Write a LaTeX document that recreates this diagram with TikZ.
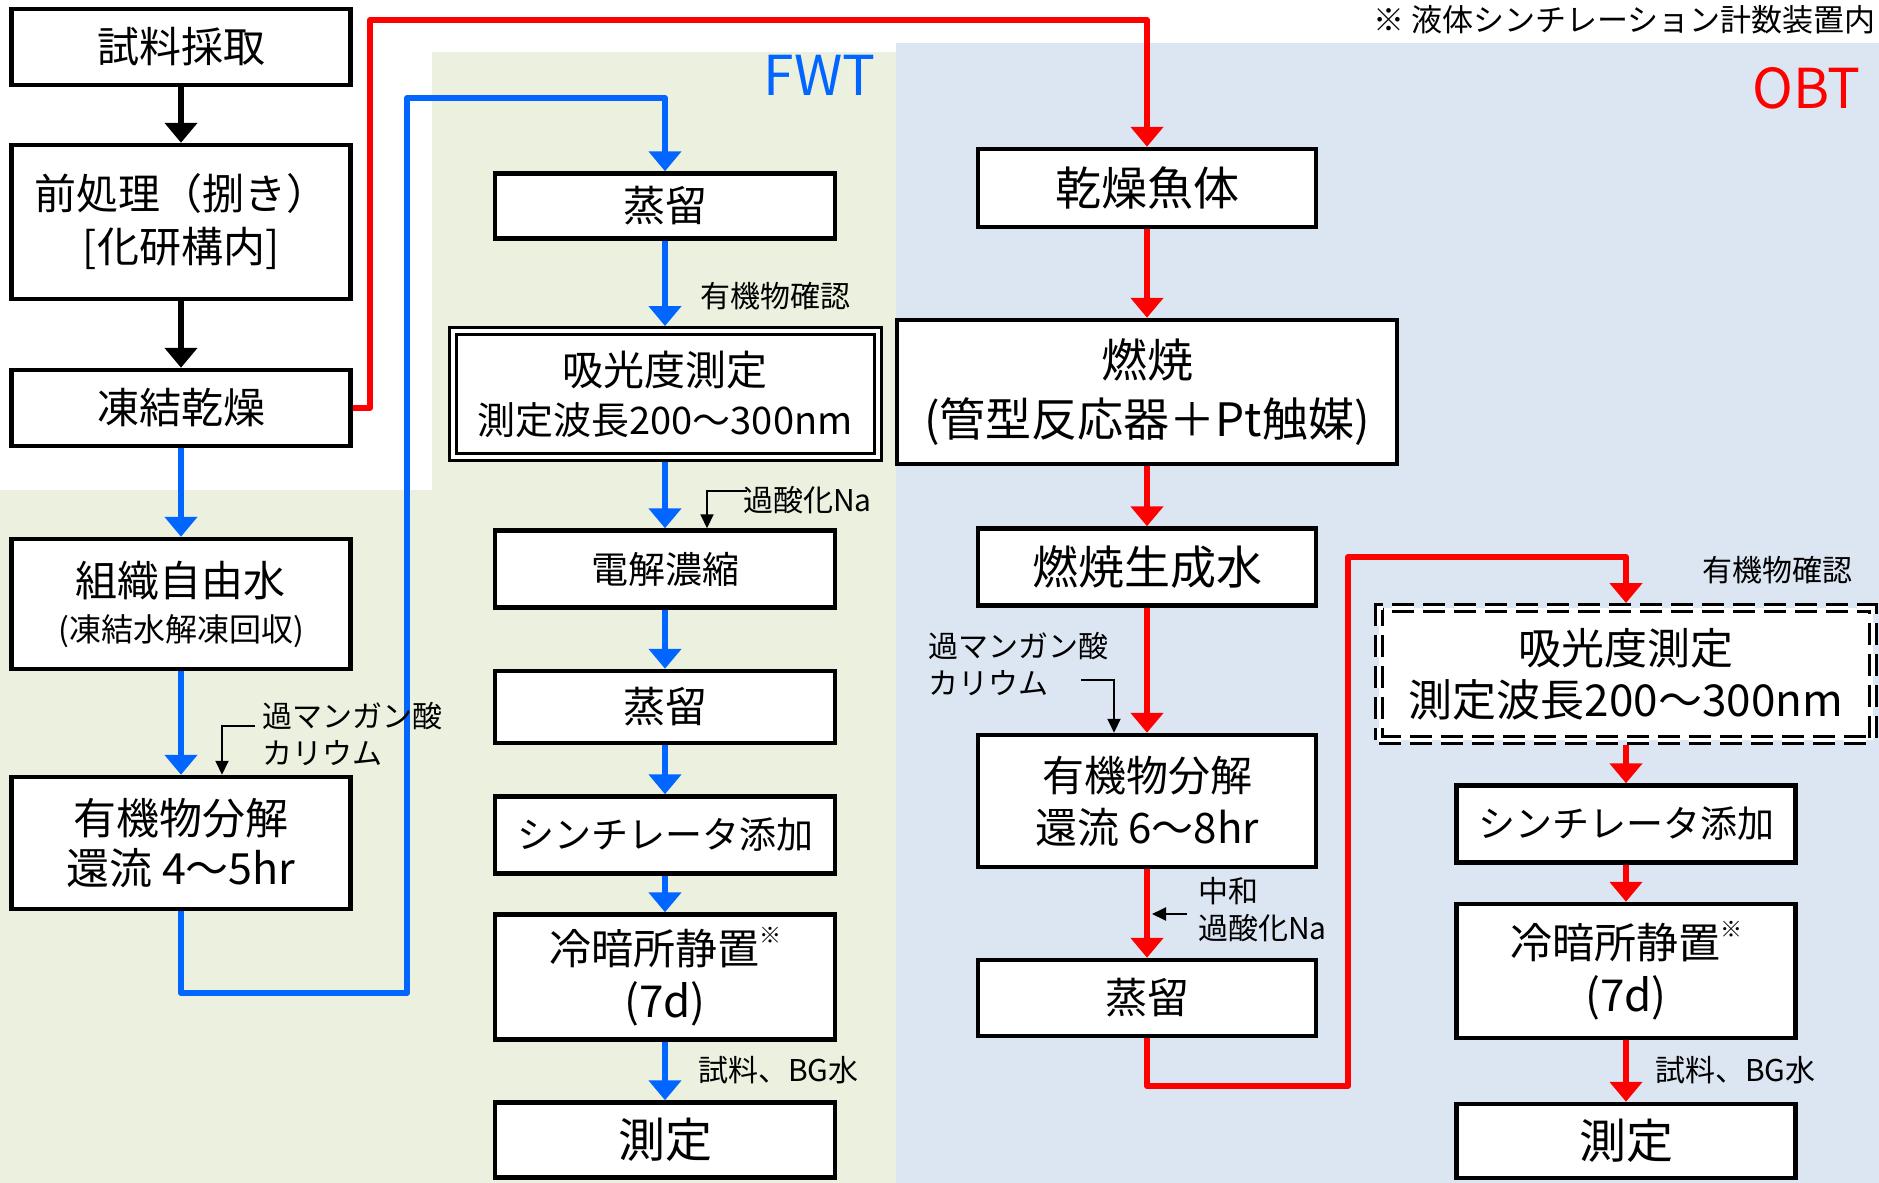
\documentclass[tikz,border=0pt]{standalone}
\usepackage{fontspec}
\setmainfont{Noto Sans CJK JP}
\usepackage{tikz}
\usetikzlibrary{arrows.meta,calc}
\definecolor{fwtbg}{HTML}{EBF1DE}
\definecolor{obtbg}{HTML}{DCE6F2}
\definecolor{fwtblue}{HTML}{0066FF}
\definecolor{obtred}{HTML}{FF0000}
\def\fs#1#2{\fontsize{#1}{#2}\selectfont}
\def\kome{\raisebox{.5em}{\fs{22}{22}※}}
\tikzset{
	box/.style={draw=black, line width=4.5pt, fill=white, align=center, inner sep=0pt, minimum width=339pt, font=\fs{42}{50}},
	dblbox/.style={box, line width=3pt, double=white, double distance=4pt, outer sep=5pt},
	flow/.style={line width=6pt, line join=round, -{Triangle[width=32pt,length=20pt]}},
	blueflow/.style={flow, color=fwtblue},
	redflow/.style={flow, color=obtred},
	blackflow/.style={flow, color=black},
	note/.style={font=\fs{30}{37}, align=left, inner sep=0pt},
	notearrow/.style={line width=2pt, -{Triangle[width=13pt,length=14pt]}},
}

\begin{document}
\begin{tikzpicture}[x=1pt, y=-1pt]
			%%%%% START %%%%%
			\useasboundingbox (0,0) rectangle (1879,1183);
			\fill[white] (0,0) rectangle (1879,1183);
			\fill[fwtbg] (0,490) -- (432,490) -- (432,52) -- (896,52) -- (896,1183) -- (0,1183) -- cycle;
			\fill[obtbg] (896,43) rectangle (1879,1183);
			
			% left column
			\node[box, minimum height=76pt] (sample) at (181, 47) {試料採取};
			\node[box, minimum height=154pt, font=\fs{42}{53}] (pretreat) at (181, 222) {前処理（捌き）\\{[}化研構内{]}};
			\node[box, minimum height=76pt] (freeze) at (181, 408) {凍結乾燥};
			\node[box, minimum height=130pt, font=\fs{42}{45}] (tissue) at (181, 604) {組織自由水\\{\fs{32}{38}(凍結水解凍回収)}};
			\node[box, minimum height=132pt, font=\fs{43}{50}] (decompL) at (181, 843) {有機物分解\\還流 4～5hr};
			
			% FWT column
			\node[box, minimum width=340pt, minimum height=65pt] (distA) at (665, 206) {蒸留};
			\node[dblbox, minimum width=425pt, minimum height=126pt, font=\fs{41}{49}] (absA) at (665, 394) {吸光度測定\\{\fs{38}{44}測定波長200～300nm}};
			\node[box, minimum width=340pt, minimum height=77pt, font=\fs{37}{44}] (elec) at (665, 569) {電解濃縮};
			\node[box, minimum width=340pt, minimum height=72pt] (distB) at (665, 707) {蒸留};
			\node[box, minimum width=340pt, minimum height=77pt, font=\fs{37}{44}] (scintA) at (665, 835) {シンチレータ添加};
			\node[box, minimum width=340pt, minimum height=125pt, font=\fs{42}{53}] (coolA) at (665, 977) {冷暗所静置\kome\\{\fs{44}{53}(7d)}};
			\node[box, minimum width=340pt, minimum height=75pt, font=\fs{47}{56}] (measA) at (665, 1140) {測定};
			
			% OBT column
			\node[box, minimum width=338pt, minimum height=78pt, font=\fs{46}{54}] (dryfish) at (1147, 188) {乾燥魚体};
			\node[box, minimum width=500pt, minimum height=144pt, font=\fs{46}{59}] (comb) at (1147, 392) {燃焼\\(管型反応器＋Pt触媒)};
			\node[box, minimum width=338pt, minimum height=77pt, font=\fs{46}{54}] (combw) at (1147, 567) {燃焼生成水};
			\node[box, minimum width=338pt, minimum height=132pt, font=\fs{42}{52}] (decompR) at (1147, 801) {有機物分解\\還流 6～8hr};
			\node[box, minimum width=338pt, minimum height=76pt] (distC) at (1147, 998) {蒸留};
			
			\node[dblbox, dash pattern=on 22pt off 9pt, minimum width=494pt, minimum height=132pt, font=\fs{43}{52}] (absB) at (1626, 674) {吸光度測定\\{\fs{44}{52}測定波長200～300nm}};
			\node[box, minimum height=77pt, font=\fs{37}{44}] (scintB) at (1626, 824) {シンチレータ添加};
			\node[box, minimum height=134pt, font=\fs{42}{53}] (coolB) at (1626, 971) {冷暗所静置\kome\\{\fs{44}{53}(7d)}};
			\node[box, minimum height=74pt, font=\fs{47}{56}] (measB) at (1626, 1141) {測定};
			
			% flows
			\coordinate (rA) at (370, 20);
			\coordinate (bA) at (407, 993);
			\coordinate (bB) at (407, 98);
			\coordinate (rB) at (1348, 1086);
			\coordinate (rC) at (1348, 557);
			
			\draw[blackflow] (sample) -- (pretreat);
			\draw[blackflow] (pretreat) -- (freeze);
			\draw[redflow] (freeze.east) -| (rA) -| (dryfish.north);
			\draw[blueflow] (freeze) -- (tissue);
			\draw[blueflow] (tissue) -- (decompL);
			\draw[blueflow] (decompL.south) |- (bA) -- (bB) -| (distA.north);
			
			\draw[blueflow] (distA) -- (absA);
			\draw[blueflow] (absA) -- (elec);
			\draw[blueflow] (elec) -- (distB);
			\draw[blueflow] (distB) -- (scintA);
			\draw[blueflow] (scintA) -- (coolA);
			\draw[blueflow] (coolA) -- (measA);
			
			\draw[redflow] (dryfish) -- (comb);
			\draw[redflow] (comb) -- (combw);
			\draw[redflow] (combw) -- (decompR);
			\draw[redflow] (decompR) -- (distC);
			\draw[redflow] (distC.south) |- (rB) -- (rC) -| (absB.north);
			\draw[redflow] (absB) -- (scintB);
			\draw[redflow] (scintB) -- (coolB);
			\draw[redflow] (coolB) -- (measB);
			
			% notes
			\node[note, anchor=east, font=\fs{55}{60}, text=fwtblue] (lblFWT) at (876, 75) {FWT};
			\node[note, anchor=east, font=\fs{55}{60}, text=obtred] (lblOBT) at (1861, 88) {OBT};
			\node[note, anchor=base east, font=\fs{31}{36}] (lblNote) at (1876, 31) {※ 液体シンチレーション計数装置内};
			
			\node[note, anchor=west] (lblOrgA) at (700, 296) {有機物確認};
			\node[note, anchor=west] (lblNaA) at (743, 500) {過酸化Na};
			\node[note, anchor=west] (lblKmnA) at (262, 734) {過マンガン酸\\カリウム};
			\node[note, anchor=west] (lblSmpA) at (698, 1070) {試料、BG水};
			
			\node[note, anchor=west] (lblKmnB) at (928, 664) {過マンガン酸\\カリウム};
			\node[note, anchor=west] (lblNeut) at (1198, 910) {中和\\過酸化Na};
			\node[note, anchor=west] (lblOrgB) at (1702, 570) {有機物確認};
			\node[note, anchor=west] (lblSmpB) at (1655, 1070) {試料、BG水};
			
			\coordinate (naA) at (747, 491);
			\coordinate (kmnA) at (255, 726);
			\coordinate (kmnB) at (1081, 680);
			\coordinate (neutA) at (1187, 914);
			\coordinate (neutB) at (1152, 914);
			\draw[notearrow] (naA) -| ([xshift=42pt]elec.north);
			\draw[notearrow] (kmnA) -| ([xshift=41pt]decompL.north);
			\draw[notearrow] (kmnB) -| ([xshift=-33pt]decompR.north);
			\draw[notearrow] (neutA) -- (neutB);
			%%%%% END %%%%%
\end{tikzpicture}
\end{document}
